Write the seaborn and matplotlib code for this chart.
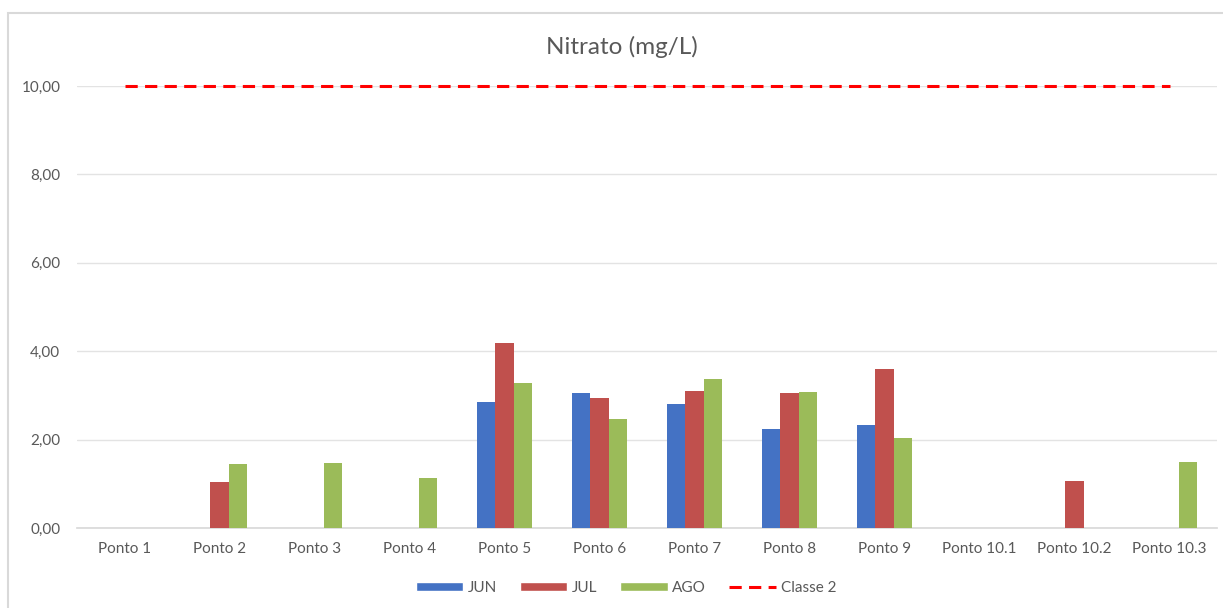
import numpy as np
import pandas as pd
import matplotlib
matplotlib.use("Agg")
import matplotlib.pyplot as plt
from matplotlib.patches import Patch, Rectangle
from matplotlib.lines import Line2D
from matplotlib.ticker import FuncFormatter
import seaborn as sns

# Sampling points and monthly nitrate readings (mg/L); NaN = no measurement
pontos = ["Ponto 1", "Ponto 2", "Ponto 3", "Ponto 4", "Ponto 5", "Ponto 6",
          "Ponto 7", "Ponto 8", "Ponto 9", "Ponto 10.1", "Ponto 10.2", "Ponto 10.3"]
meses = ["JUN", "JUL", "AGO"]
jun = [np.nan, np.nan, np.nan, np.nan, 2.86, 3.05, 2.81, 2.23, 2.32, np.nan, np.nan, np.nan]
jul = [np.nan, 1.05, np.nan, np.nan, 4.19, 2.93, 3.09, 3.05, 3.60, np.nan, 1.06, np.nan]
ago = [np.nan, 1.44, 1.48, 1.13, 3.27, 2.47, 3.36, 3.08, 2.04, np.nan, np.nan, 1.50]
classe2 = [10.0] * len(pontos)  # class 2 limit

cores = {"JUN": "#4472C4", "JUL": "#C0504D", "AGO": "#9BBB59"}
cinza = "#595959"

df = pd.DataFrame({"Ponto": pontos, "JUN": jun, "JUL": jul, "AGO": ago})
longo = df.melt(id_vars="Ponto", var_name="Mes", value_name="Nitrato")

sns.set_theme(style="white")
plt.rcParams["font.family"] = ["Lato", "DejaVu Sans"]

W, H = 1223, 608
fig = plt.figure(figsize=(W / 100, H / 100), dpi=100)
ax = fig.add_axes([77 / W, 1 - 528 / H, (1217 - 77) / W, (528 - 86) / H])

# chart frame
fig.patches.append(Rectangle((8 / W, -0.2), 1.2, 1.2 - 13 / H, transform=fig.transFigure,
                             fill=False, edgecolor="#D9D9D9", linewidth=1.5, zorder=0))

sns.barplot(data=longo, x="Ponto", y="Nitrato", hue="Mes", order=pontos,
            hue_order=meses, palette=cores, width=0.57, saturation=1,
            errorbar=None, legend=False, ax=ax, zorder=3, linewidth=0)
sns.lineplot(x=pontos, y=classe2, ax=ax, color="#FF0000", linewidth=2.2,
             linestyle=(0, (4, 2.4)), zorder=4, clip_on=False)

ax.set_xlim(-0.5, len(pontos) - 0.5)
ax.set_ylim(0, 10)
ax.set_yticks([0, 2, 4, 6, 8, 10])
ax.yaxis.set_major_formatter(FuncFormatter(lambda v, p: f"{v:.2f}".replace(".", ",")))
ax.grid(axis="y", color="#E3E3E3", linewidth=1, zorder=0)
ax.set_axisbelow(True)
for s in ["top", "right", "left"]:
    ax.spines[s].set_visible(False)
ax.spines["bottom"].set_color("#D9D9D9")
ax.tick_params(axis="both", length=0, colors=cinza, labelsize=11)
ax.tick_params(axis="x", pad=10)
ax.tick_params(axis="y", pad=12)
ax.set_xlabel("")
ax.set_ylabel("")

fig.text(622 / W, 1 - 47 / H, "Nitrato (mg/L)", ha="center", va="center",
         fontsize=17.5, color=cinza)

handles = [Patch(facecolor=cores[m], label=m) for m in meses]
handles.append(Line2D([0], [0], color="#FF0000", linewidth=2.2,
                      linestyle=(0, (4, 2.4)), label="Classe 2"))
fig.legend(handles=handles, loc="center", bbox_to_anchor=(626 / W, 1 - 588 / H),
           ncol=4, frameon=False, fontsize=11, labelcolor=cinza,
           handlelength=3.1, handleheight=0.6, handletextpad=0.3, columnspacing=1.5)

fig.savefig("out.png", dpi=100, facecolor="white")
